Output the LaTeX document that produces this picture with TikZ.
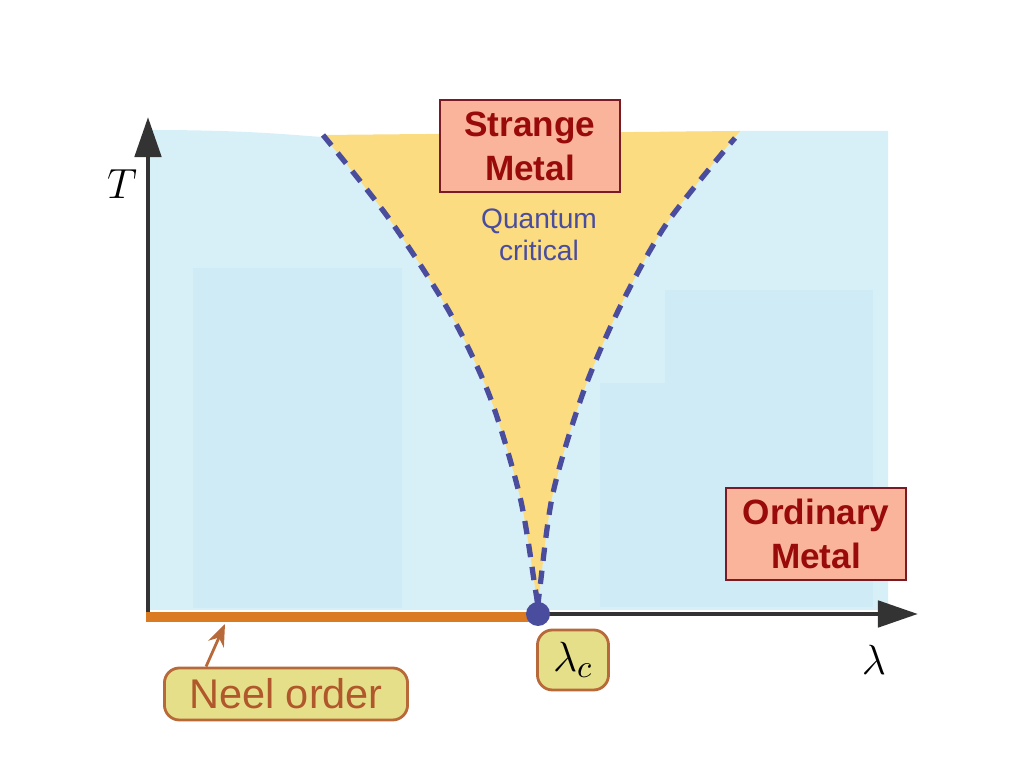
\documentclass[tikz,border=0pt]{standalone}
\usepackage{fontspec}
\setmainfont{Liberation Sans}
\usetikzlibrary{arrows.meta, positioning}
\definecolor{phaseblue}{HTML}{D7F0F8}
\definecolor{patchblue}{HTML}{CFEBF6}
\definecolor{crityellow}{HTML}{FBDC80}
\definecolor{critblue}{HTML}{4A4C9E}
\definecolor{axisgray}{HTML}{333333}
\definecolor{boxfill}{HTML}{FAB49C}
\definecolor{boxedge}{HTML}{7A1A22}
\definecolor{boxtext}{HTML}{990A0A}
\definecolor{tagfill}{HTML}{E6DF8A}
\definecolor{tagedge}{HTML}{B8693A}
\definecolor{tagtext}{HTML}{B0582B}
\definecolor{neelorange}{HTML}{DA7A22}
\tikzset{
  metalbox/.style={rectangle,draw=boxedge,fill=boxfill,line width=0.8pt,text=boxtext,align=center,
    font=\fontsize{10}{12.5}\selectfont\bfseries,minimum width=18mm,minimum height=9.2mm,inner sep=1pt},
  tagbox/.style={rectangle,draw=tagedge,fill=tagfill,rounded corners=1.5mm,line width=0.8pt,text=tagtext,inner sep=1pt},
  axis/.style={draw=axisgray,line width=1.4pt,-{Triangle[length=4mm,width=2.6mm]}},
  critline/.style={draw=critblue,line width=1.5pt,dash pattern=on 3.8pt off 2.8pt},
  line/.style={draw=tagedge,line width=0.8pt,-{Stealth[length=2.2mm,width=1.7mm]}}
}
\begin{document}
\begin{tikzpicture}[x=0.01cm,y=-0.01cm]
\useasboundingbox (0,0) rectangle (1024,768);
% phase regions
\fill[phaseblue] (148,130) .. controls (250,130) and (290,135) .. (323,137) -- (740,131) -- (888,131) -- (888,610) -- (148,610) -- cycle;
\fill[patchblue] (193,268) rectangle (402,608);
\fill[patchblue] (665,290) rectangle (873,383);
\fill[patchblue] (600,383) rectangle (873,607);
\fill[crityellow] plot[smooth] coordinates {(323,135) (390,220) (450,313) (490,397) (520,497) (535,587) (538,607)}
  -- plot[smooth] coordinates {(538,607) (540,587) (553,493) (583,393) (620,307) (667,223) (740,131)} -- cycle;
\draw[critline] plot[smooth] coordinates {(323,135) (390,220) (450,313) (490,397) (520,497) (535,587) (538,607)};
\draw[critline] plot[smooth] coordinates {(538,607) (540,587) (553,493) (583,393) (620,307) (667,223) (735,138)};
% axes
\coordinate (origin) at (148,614);
\coordinate (ttip) at (148,117);
\coordinate (ltip) at (918,614);
\draw[axis] (origin) -- (ttip);
\draw[axis] (origin) -- (ltip);
\node[font=\fontsize{12.5}{14}\selectfont] (tlabel) at (122,184) {$T$};
\node[font=\fontsize{12.5}{14}\selectfont] (llabel) at (874,660) {$\lambda$};
\coordinate (neelstart) at (146,617);
\coordinate (neelend) at (532,617);
\draw[neelorange,line width=3pt] (neelstart) -- (neelend);
\node[circle,fill=critblue,minimum size=2.4mm,inner sep=0pt] (qcp) at (538,614) {};
% labels
\node[metalbox] (strange) at (530,146) {Strange\\Metal};
\node[metalbox] (ordinary) at (816,534) {Ordinary\\Metal};
\node[text=critblue,align=center,font=\fontsize{8}{9.1}\selectfont] (qc) at (539,235) {Quantum\\critical};
\node[tagbox,minimum width=24.3mm,minimum height=5.2mm,font=\fontsize{11.8}{14}\selectfont] (neel) at (286,694) {Neel order};
\node[tagbox,minimum width=7.1mm,minimum height=6mm,text=black,font=\fontsize{12.5}{14}\selectfont] (lamc) at (573,660) {$\lambda_c$};
\coordinate (neelpt) at (225,624);
\draw[line] ([xshift=4.3mm]neel.north west) -- (neelpt);
\end{tikzpicture}
\end{document}
